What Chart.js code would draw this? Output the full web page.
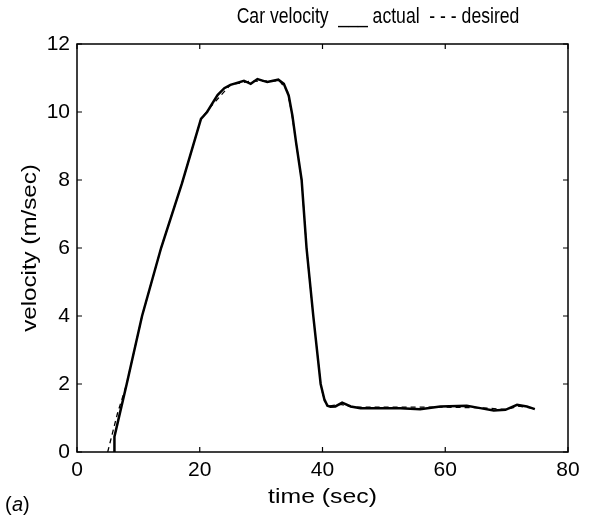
<!DOCTYPE html>
<html>
<head>
<meta charset="utf-8">
<script src="https://cdn.jsdelivr.net/npm/chart.js@4.4.0/dist/chart.umd.min.js"></script>
<style>
  body{margin:0;background:#fff;}
  #wrap{width:590px;height:520px;position:relative;}
</style>
</head>
<body>
<div id="wrap"><canvas id="myChart" width="590" height="520"></canvas></div>
<script>
// actual car velocity (solid)
const actualT=[6.05,6.1,7.0,8.1,10.6,13.7,17.1,20.2,21.2,22.0,22.9,24.0,25.0,27.2,28.3,29.4,31.0,32.8,33.7,34.5,35.1,35.7,36.6,37.4,38.5,39.7,40.3,40.8,41.3,42.1,43.2,44.6,46.2,52.7,55.9,59.2,63.5,65.7,67.9,69.8,71.7,73.3,74.6];
const actualV=[0,0.45,1.15,2.0,4.0,6.0,7.9,9.8,10.0,10.24,10.5,10.7,10.8,10.92,10.83,10.97,10.88,10.95,10.83,10.48,9.89,9.1,8.0,6.0,4.0,2.0,1.55,1.36,1.33,1.34,1.45,1.34,1.29,1.29,1.26,1.34,1.36,1.29,1.22,1.24,1.39,1.34,1.26];
// desired velocity (dashed)
const desiredT=[5.0,6.6,8.1,10.6,13.7,17.1,20.2,22.0,25.0,28.0,33.0,34.3,35.0,36.6,37.4,38.5,39.7,40.3,41.0,43.0,45.0,60.0,66.0,70.0,72.0,74.6];
const desiredV=[0,1.14,2.0,4.0,6.0,7.9,9.8,10.2,10.8,10.9,10.92,10.6,9.95,8.0,6.0,4.0,2.0,1.5,1.35,1.4,1.32,1.32,1.3,1.25,1.35,1.27];

const xTicks=[0,20,40,60,80];
const yTicks=[0,2,4,6,8,10,12];

const FONT="'Liberation Sans', Arial, sans-serif";

function pts(t,v){
  let out=[];
  for(let i=0;i<t.length;i++) out.push({x:t[i],y:v[i]});
  return out;
}

// stretched text helper (the scan's font is a bit narrow/wide in places)
function txt(c,s,x,y,sx){
  c.save();
  c.translate(x,y);
  c.scale(sx,1);
  c.fillText(s,0,0);
  c.restore();
}

// frame + inward ticks like matlab
const frame={
  id:'frame',
  afterDraw(chart){
    const c=chart.ctx, a=chart.chartArea;
    const xs=chart.scales.x, ys=chart.scales.y;
    c.save();
    c.strokeStyle='#000';
    c.lineWidth=1.5;
    c.strokeRect(a.left,a.top,a.right-a.left,a.bottom-a.top);
    c.lineWidth=1.2;
    c.beginPath();
    for(const t of xTicks){
      const px=xs.getPixelForValue(t);
      c.moveTo(px,a.bottom);c.lineTo(px,a.bottom-5);
      c.moveTo(px,a.top);c.lineTo(px,a.top+5);
    }
    for(const t of yTicks){
      const py=ys.getPixelForValue(t);
      c.moveTo(a.left,py);c.lineTo(a.left+5,py);
      c.moveTo(a.right,py);c.lineTo(a.right-5,py);
    }
    c.stroke();
    // texts
    c.fillStyle='#000';
    c.textAlign='center';
    c.textBaseline='middle';
    c.font='22px '+FONT;
    txt(c,'Car velocity  ___ actual  - - - desired',378,17,0.8);
    c.font='21px '+FONT;
    txt(c,'time (sec)',(a.left+a.right)/2,497,1.18);
    c.save();
    c.translate(30,(a.top+a.bottom)/2);
    c.rotate(-Math.PI/2);
    c.font='21px '+FONT;
    txt(c,'velocity (m/sec)',0,0,1.15);
    c.restore();
    c.textAlign='left';
    c.font='20px '+FONT;
    c.fillText('(',5,505);
    c.font='italic 20px '+FONT;
    c.fillText('a',12,505);
    c.font='20px '+FONT;
    c.fillText(')',23,505);
    c.restore();
  }
};

new Chart("myChart",{
  type:"line",
  data:{
    datasets:[{
      label:"actual",
      data:pts(actualT,actualV),
      borderColor:"#000",
      borderWidth:2.5,
      pointRadius:0,
      tension:0
    },{
      label:"desired",
      data:pts(desiredT,desiredV),
      borderColor:"#000",
      borderWidth:1.3,
      borderDash:[5,4],
      pointRadius:0,
      tension:0
    }]
  },
  options:{
    responsive:false,
    animation:false,
    layout:{padding:{top:44,right:22,left:0,bottom:0}},
    plugins:{legend:{display:false},title:{display:false},tooltip:{enabled:false}},
    scales:{
      x:{
        type:'linear',min:0,max:80,
        afterBuildTicks(s){s.ticks=xTicks.map(v=>({value:v}));},
        afterFit(s){s.height=68;},
        grid:{display:false,drawTicks:false},
        border:{display:false},
        ticks:{color:'#000',padding:6,font:{family:FONT,size:21},maxRotation:0}
      },
      y:{
        min:0,max:12,
        afterBuildTicks(s){s.ticks=yTicks.map(v=>({value:v}));},
        afterFit(s){s.width=77;},
        grid:{display:false,drawTicks:false},
        border:{display:false},
        ticks:{color:'#000',padding:7,font:{family:FONT,size:21}}
      }
    }
  },
  plugins:[frame]
});
</script>
</body>
</html>
